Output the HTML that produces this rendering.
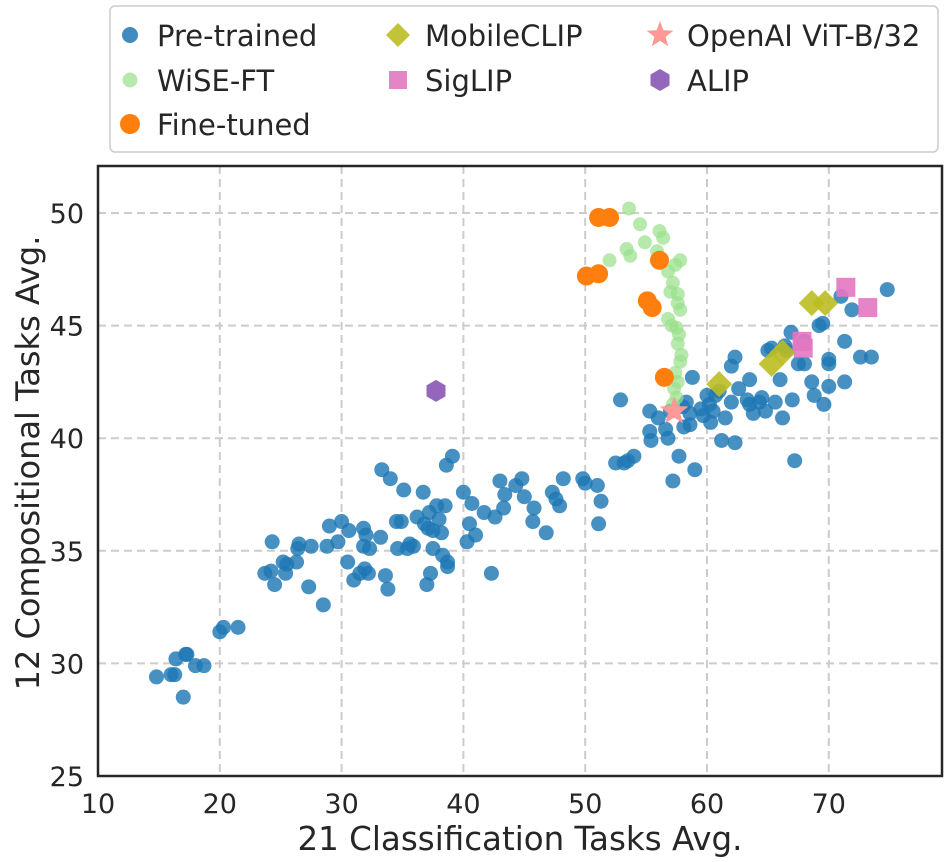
<!DOCTYPE html>
<html><head><meta charset="utf-8"><style>
html,body{margin:0;padding:0;background:#fff;}
svg{display:block;font-family:"DejaVu Sans","Liberation Sans",sans-serif;}
</style></head><body>
<svg id="chart" width="946" height="862" viewBox="0 0 946 862" xmlns="http://www.w3.org/2000/svg">
<g id="grid"></g>
<g id="marks"></g>
<rect x="98" y="166" width="844" height="610" fill="none" stroke="#262626" stroke-width="2.5"/>
<g id="ticks" font-size="27" fill="#262626"></g>
<text x="520" y="850" font-size="32.5" text-anchor="middle" fill="#262626">21 Classification Tasks Avg.</text>
<text transform="translate(39,463) rotate(-90)" font-size="32" text-anchor="middle" fill="#262626">12 Compositional Tasks Avg.</text>
<g id="legend">
<rect x="110" y="6" width="828" height="146" rx="5" fill="#fff" stroke="#ccc" stroke-width="1.5"/>
</g>
</svg>
<script>
const xTicks=[10,20,30,40,50,60,70];
const yTicks=[25,30,35,40,45,50];
const pretrainedX=[14.8,16,16.3,16.4,17.2,17.3,17,18,18.7,20,20.3,21.5,23.7,24.2,24.3,24.5,25.2,25.4,25.5,26.3,26.4,26.5,27.3,27.5,28.5,28.8,29,29.7,30,30.5,30.6,31,31.5,31.8,31.8,31.9,32,32.3,32.2,33.2,33.3,33.6,33.8,34,34.5,34.6,34.9,35.1,35.4,35.6,35.9,36.2,36.7,36.8,37,37.1,37.3,37.2,37.5,37.5,37.8,38,38.2,38.3,38.5,38.7,38.7,38.6,39.1,40,40.3,40.5,40.7,41,41.7,42.3,42.6,43,43.4,43.3,44.3,44.8,45,45.8,45.7,46.8,47.3,47.6,47.9,48.2,49.8,50,51,51.1,51.3,52.5,52.9,53.2,53.5,54,55.3,55.3,55.4,56,56.6,56.8,57,57.2,57.7,58.1,58,58.3,58.6,58.8,58.6,59,59.5,59.7,60,60.2,60.3,60.5,60.7,61,61.5,61.2,62,62,62.3,62.6,62.3,63.3,63.5,63.8,63.5,64.3,64.5,64.8,65,65.3,65.6,66,66.2,66.4,66.5,66.9,67,67.5,67.2,68,68,68.6,68.8,69.2,69.5,69.6,70,70,70,71,71.3,71.3,71.9,72.6,73.5,74.8];
const pretrainedY=[29.4,29.5,29.5,30.2,30.4,30.4,28.5,29.9,29.9,31.4,31.6,31.6,34,34.1,35.4,33.5,34.5,34,34.4,34.5,35.1,35.3,33.4,35.2,32.6,35.2,36.1,35.4,36.3,34.5,35.9,33.7,34,36,35.2,34.2,35.7,35.1,34,35.6,38.6,33.9,33.3,38.2,36.3,35.1,36.3,37.7,35.1,35.3,35.2,36.5,37.6,36.2,33.5,36,34,36.7,35.9,35.1,37,36.4,35.8,34.8,37,34.5,34.3,38.8,39.2,37.6,35.4,36.2,37.1,35.7,36.7,34,36.5,38.1,37.5,36.9,37.9,38.2,37.4,36.9,36.3,35.8,37.6,37.3,37,38.2,38.2,38,37.9,36.2,37.2,38.9,41.7,38.9,39,39.2,41.2,40.3,39.9,40.9,40.4,40,41.2,38.1,39.2,40.5,41.4,41.6,40.6,42.7,41.1,38.6,41.3,41,41.9,41.5,40.7,41.2,41.9,42.1,40.9,39.9,41.6,43.2,43.6,42.2,39.8,41.7,42.6,41.1,41.5,41.6,41.8,41.2,43.9,44,41.6,42.6,40.9,44.1,43.9,44.7,41.7,43.3,39,43.3,44.3,42.5,41.9,45,45.1,41.5,43.5,43.3,42.3,46.3,44.3,42.5,45.7,43.6,43.6,46.6];
const wiseX=[53.6,54.5,56.1,56.4,54.9,53.4,53.7,52,55.9,57.8,57.4,56.8,57.2,57.0,57.6,57.6,57.8,56.8,57.1,57.5,57.7,57.6,57.9,57.8,57.4,57.6,57.3,57.5,57.2];
const wiseY=[50.2,49.5,49.2,48.9,48.7,48.4,48.1,47.9,48.3,47.9,47.7,47.4,46.9,46.5,46.4,46.0,45.7,45.3,45.0,44.9,44.6,44.2,43.7,43.4,42.9,42.5,42.2,41.8,41.5];
const ftX=[51.1,52,50.1,51.1,56.1,55.1,55.5,56.5];
const ftY=[49.8,49.8,47.2,47.3,47.9,46.1,45.8,42.7];
const mobileX=[61,65.3,66.2,68.6,69.7];
const mobileY=[42.4,43.3,43.8,46,46];
const siglipX=[71.4,73.2,67.8,67.9];
const siglipY=[46.7,45.8,44.3,44.0];
const openaiX=[57.3];const openaiY=[41.2];
const alipX=[37.75];const alipY=[42.1];

const NS="http://www.w3.org/2000/svg";
function sx(v){return 98+(v-10)*12.18;}
function sy(v){return 776-(v-25)*22.52;}
function mk(tag,attrs,parent){const e=document.createElementNS(NS,tag);for(const k in attrs)e.setAttribute(k,attrs[k]);parent.appendChild(e);return e;}
const grid=document.getElementById('grid'),marks=document.getElementById('marks'),ticks=document.getElementById('ticks'),legend=document.getElementById('legend');
xTicks.forEach(t=>{
 const l=mk('line',{x1:sx(t),x2:sx(t),y1:166,y2:776,stroke:'#cccccc','stroke-width':2,'stroke-dasharray':'8,5'},grid);
 
 
 const tx=mk('text',{x:sx(t),y:813,'text-anchor':'middle'},ticks);tx.textContent=t;
 
 
});
yTicks.forEach(t=>{
 const l=mk('line',{x1:98,x2:942,y1:sy(t),y2:sy(t),stroke:'#cccccc','stroke-width':2,'stroke-dasharray':'8,5'},grid);
 
 
 const tx=mk('text',{x:84,y:sy(t)+10,'text-anchor':'end'},ticks);tx.textContent=t;
 
 
});
function circle(p,cx,cy,r,fill,op){return mk('circle',{cx:cx,cy:cy,r:r,fill:fill,'fill-opacity':op},p);}
function diamond(p,cx,cy,s,fill,op){return mk('polygon',{points:`${cx},${cy-s} ${cx+s},${cy} ${cx},${cy+s} ${cx-s},${cy}`,fill:fill,'fill-opacity':op},p);}
function square(p,cx,cy,s,fill,op){return mk('rect',{x:cx-s/2,y:cy-s/2,width:s,height:s,fill:fill,'fill-opacity':op},p);}
function star(p,cx,cy,r,fill){let pts=[];for(let i=0;i<10;i++){const a=-Math.PI/2+i*Math.PI/5;const rr=i%2?r*0.42:r;pts.push((cx+rr*Math.cos(a)).toFixed(1)+','+(cy+rr*Math.sin(a)).toFixed(1));}return mk('polygon',{points:pts.join(' '),fill:fill},p);}
function hexagon(p,cx,cy,r,fill){let pts=[];for(let i=0;i<6;i++){const a=Math.PI/6+i*Math.PI/3;pts.push((cx+r*Math.cos(a)).toFixed(1)+','+(cy+r*Math.sin(a)).toFixed(1));}return mk('polygon',{points:pts.join(' '),fill:fill},p);}
pretrainedX.forEach((x,i)=>{const e=circle(marks,sx(x),sy(pretrainedY[i]),7.5,'#1f77b4',0.82);
 
 });
wiseX.forEach((x,i)=>{const e=circle(marks,sx(x),sy(wiseY[i]),7,'#98df8a',0.7);
 
 });
ftX.forEach((x,i)=>{const e=circle(marks,sx(x),sy(ftY[i]),9.5,'#ff7f0e',1);
 
 });
mobileX.forEach((x,i)=>{const e=diamond(marks,sx(x),sy(mobileY[i]),13,'#bcbd22',0.9);
 
 });
siglipX.forEach((x,i)=>{const e=square(marks,sx(x),sy(siglipY[i]),19,'#e377c2',0.9);
 
 });
openaiX.forEach((x,i)=>{const e=star(marks,sx(x),sy(openaiY[i]),15,'#ff9896');
 
 });
alipX.forEach((x,i)=>{const e=hexagon(marks,sx(x),sy(alipY[i]),11,'#9467bd');
 
 });
const legItems=[
 ['Pre-trained',130,35,'c','#1f77b4'],['WiSE-FT',130,80,'cs','#98df8a'],['Fine-tuned',130,124,'cb','#ff7f0e'],
 ['MobileCLIP',398,35,'d','#bcbd22'],['SigLIP',398,80,'s','#e377c2'],
 ['OpenAI ViT-B/32',660,35,'st','#ff9896'],['ALIP',660,80,'h','#9467bd']];
legItems.forEach(it=>{
 const [lab,x,y,t,c]=it;let e;
 if(t==='c')e=circle(legend,x,y,8,c,0.85);
 else if(t==='cs')e=circle(legend,x,y,7.5,c,0.7);
 else if(t==='cb')e=circle(legend,x,y,10,c,1);
 else if(t==='d')e=diamond(legend,x,y,12,c,0.9);
 else if(t==='s')e=square(legend,x,y,18,c,0.9);
 else if(t==='st')e=star(legend,x,y,14,c);
 else e=hexagon(legend,x,y,11,c);
 
 
 const tx=mk('text',{x:x+27,y:y+11,'font-size':29,fill:'#262626'},legend);tx.textContent=lab;
 
 
});
</script>
</body></html>
